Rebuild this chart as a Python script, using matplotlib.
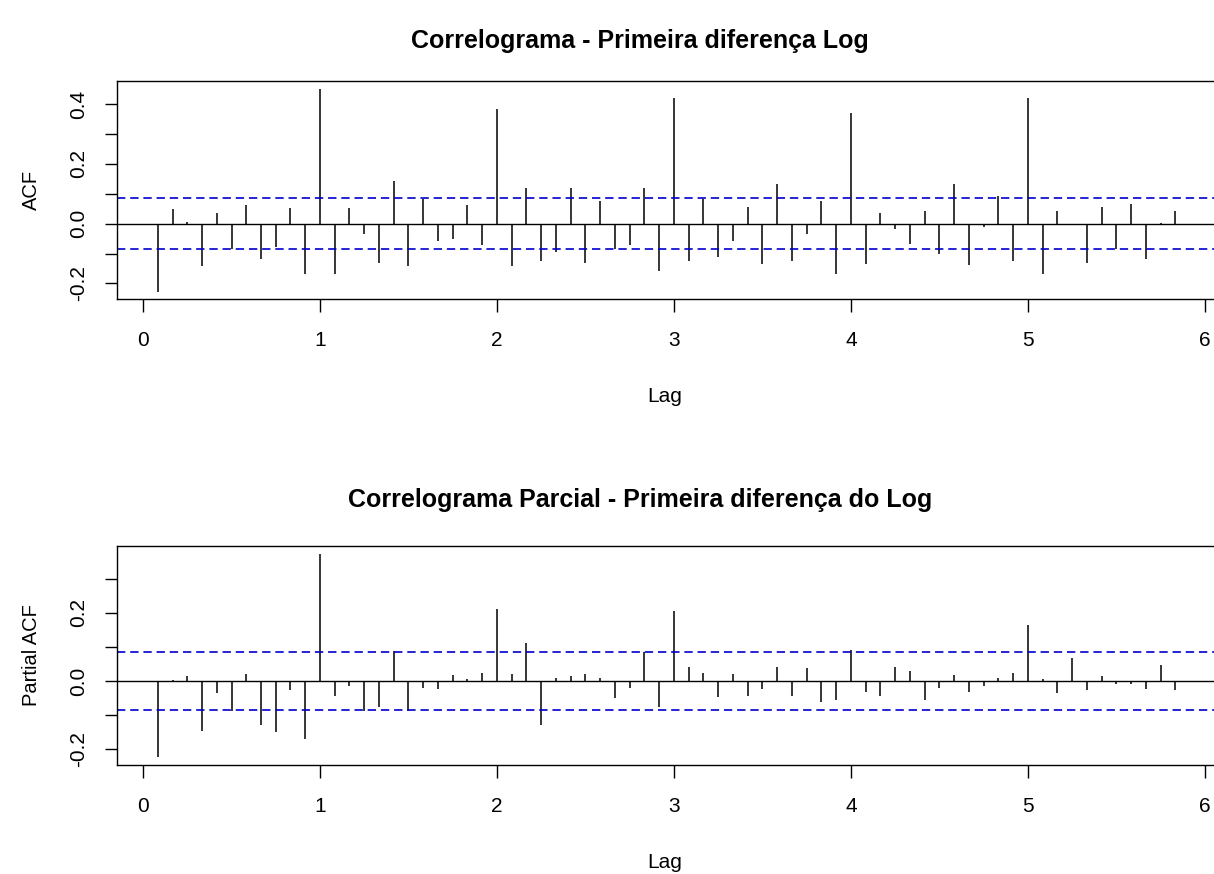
import numpy as np
import matplotlib
matplotlib.use("Agg")
import matplotlib.pyplot as plt

plt.rcParams['font.family'] = ['Liberation Sans', 'DejaVu Sans']
plt.rcParams['lines.scale_dashes'] = False

# lags are k/12 for k = 1..70
lag_idx = np.arange(1, 71)

acf_vals = [
    -0.227, 0.048, 0.007, -0.143, 0.034, -0.084, 0.062, -0.119, -0.079, 0.053, -0.167, 0.451,
    -0.167, 0.053, -0.036, -0.130, 0.142, -0.143, 0.082, -0.058, -0.050, 0.062, -0.073, 0.384,
    -0.143, 0.118, -0.124, -0.096, 0.118, -0.130, 0.076, -0.084, -0.073, 0.118, -0.158, 0.421,
    -0.124, 0.081, -0.110, -0.058, 0.057, -0.134, 0.132, -0.124, -0.036, 0.076, -0.167, 0.371,
    -0.134, 0.034, -0.018, -0.069, 0.043, -0.101, 0.132, -0.138, -0.012, 0.094, -0.124, 0.421,
    -0.167, 0.043, -0.004, -0.130, 0.057, -0.084, 0.066, -0.119, 0.003, 0.043,
]

pacf_vals = [
    -0.224, 0.002, 0.015, -0.146, -0.034, -0.087, 0.022, -0.129, -0.150, -0.026, -0.171, 0.372,
    -0.043, -0.014, -0.087, -0.075, 0.088, -0.087, -0.019, -0.022, 0.018, 0.006, 0.025, 0.211,
    0.022, 0.112, -0.129, 0.010, 0.015, 0.022, 0.010, -0.051, -0.019, 0.084, -0.075, 0.206,
    0.042, 0.025, -0.048, 0.022, -0.043, -0.022, 0.042, -0.043, 0.039, -0.061, -0.056, 0.091,
    -0.031, -0.043, 0.042, 0.030, -0.056, -0.019, 0.018, -0.031, -0.014, 0.010, 0.025, 0.165,
    0.005, -0.034, 0.067, -0.026, 0.015, -0.010, -0.010, -0.022, 0.047, -0.026,
]

conf = 0.086

titles = ["Correlograma - Primeira diferença Log",
          "Correlograma Parcial - Primeira diferença do Log"]
ylabels = ["ACF", "Partial ACF"]

W, H = 1214, 874
fig = plt.figure(figsize=(W / 100, H / 100), dpi=100)

# axes boxes in pixels: left, top, right, bottom
boxes = [(117, 81, 1216, 299), (117, 546, 1216, 765)]
ylims = [(-0.252, 0.477), (-0.246, 0.396)]
yticks = [np.arange(-0.2, 0.41, 0.1), np.arange(-0.2, 0.31, 0.1)]
title_y = [41, 500]
lag_y = [397, 862]

for i, vals in enumerate([acf_vals, pacf_vals]):
    l, t, r, b = boxes[i]
    ax = fig.add_axes([l / W, 1 - b / H, (r - l) / W, (b - t) / H])
    lags = lag_idx / 12.0
    ax.vlines(lags, 0, vals, color='black', linewidth=1.1)
    ax.axhline(0, color='black', linewidth=1.0)
    for c in (conf, -conf):
        ax.axhline(c, color='#0000cc', linewidth=1.2, linestyle=(0, (6, 3.5)))
    ax.set_xlim(-0.147, 6.063)
    ax.set_ylim(*ylims[i])
    ax.set_xticks(range(7))
    ax.set_xticklabels([str(v) for v in range(7)], fontsize=15)
    yt = yticks[i]
    ax.set_yticks(yt)
    labs = []
    for v in yt:
        k = round(v * 10)
        labs.append("%.1f" % (k / 10) if k % 2 == 0 else "")
    ax.set_yticklabels(labs, rotation=90, va='center', fontsize=15)
    ax.tick_params(length=9, width=1, color='black')
    ax.tick_params(axis='x', pad=14)
    ax.tick_params(axis='y', pad=12)
    for s in ax.spines.values():
        s.set_linewidth(1.0)
    ax.set_ylabel(ylabels[i], fontsize=14.5, labelpad=20)
    fig.text(640 / W, 1 - title_y[i] / H, titles[i],
             ha='center', va='center', fontsize=18, fontweight='bold')
    fig.text(665 / W, 1 - lag_y[i] / H, "Lag",
             ha='center', va='center', fontsize=15)

fig.savefig("out.png", dpi=100)
